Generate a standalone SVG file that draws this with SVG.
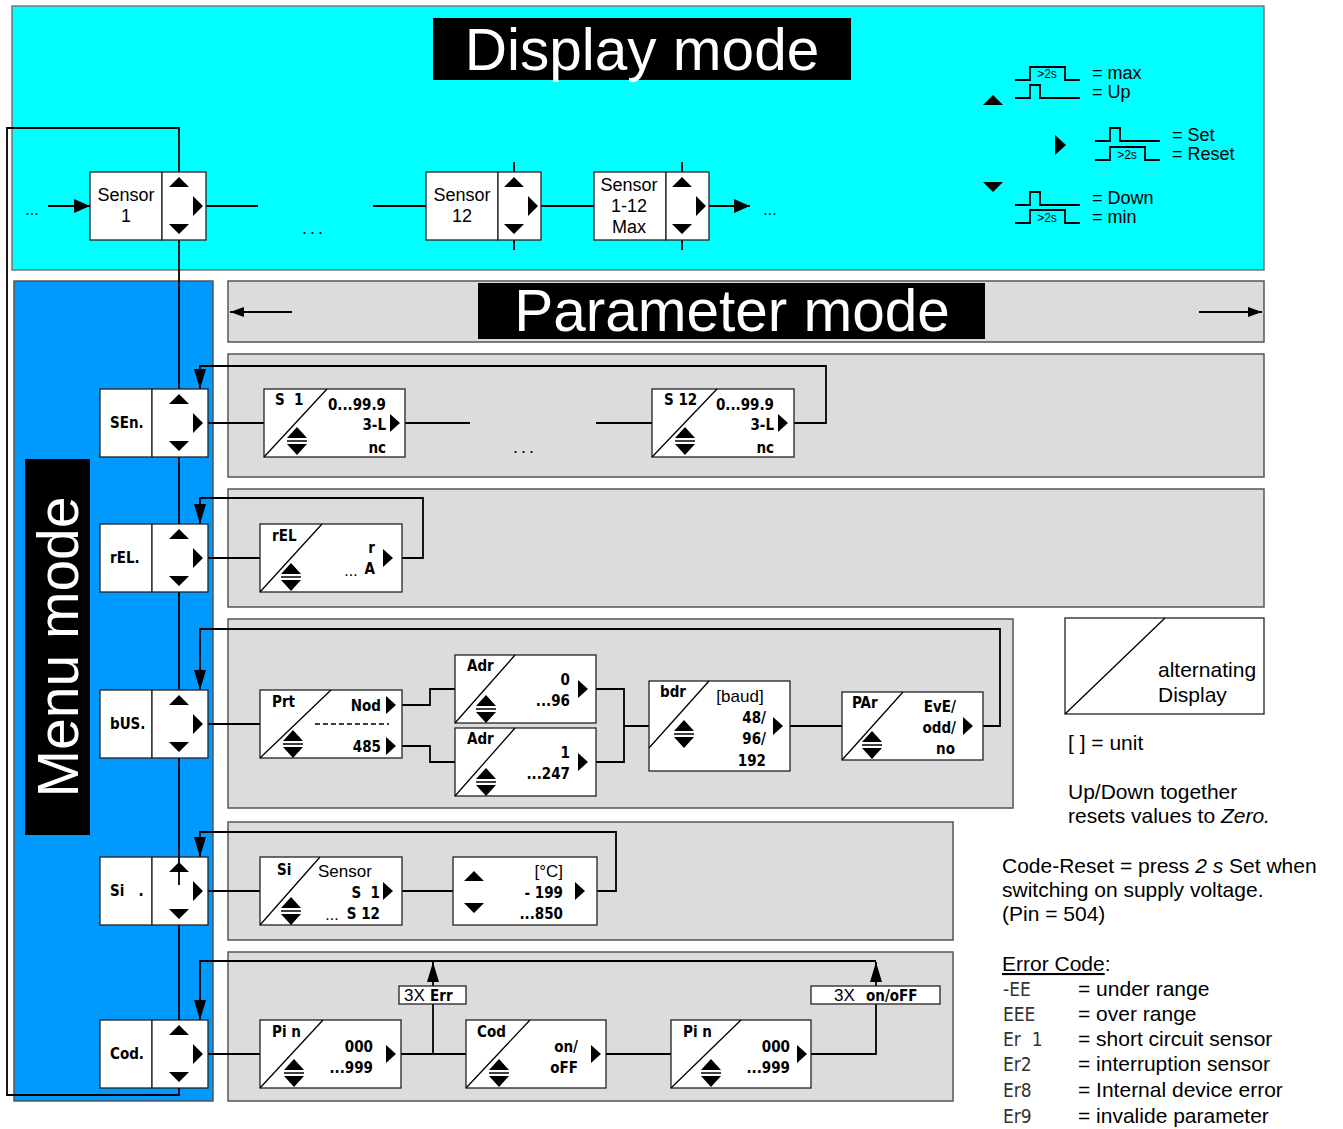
<svg xmlns="http://www.w3.org/2000/svg" width="1343" height="1129" viewBox="0 0 1343 1129">
<style>
.pn{fill:#dcdcdc;stroke:#555;stroke-width:1.5}
.bx{fill:#fff;stroke:#222;stroke-width:1.3}
.ln{fill:none;stroke:#000;stroke-width:1.8}
.dg{stroke:#000;stroke-width:1.3}
.t{font-family:"Liberation Sans",Arial,sans-serif;fill:#000}
.s{font-family:"DejaVu Sans Condensed","DejaVu Sans",sans-serif;font-stretch:condensed;font-weight:bold;fill:#000;font-size:15px}
.e{font-family:"DejaVu Sans Condensed","DejaVu Sans",sans-serif;font-stretch:condensed;font-weight:normal;fill:#333;font-size:19px}
.ti{font-family:"Liberation Sans",Arial,sans-serif;fill:#fff}
.tr{fill:#000}
</style>
<defs>
<marker id="ah" viewBox="0 0 20 12" refX="20" refY="6" markerWidth="20" markerHeight="12" markerUnits="userSpaceOnUse" orient="auto"><path d="M0,0L20,6L0,12z" fill="#000"/></marker>
<marker id="ah2" viewBox="0 0 16 14" refX="16" refY="7" markerWidth="16" markerHeight="14" markerUnits="userSpaceOnUse" orient="auto"><path d="M0,0L16,7L0,14z" fill="#000"/></marker>
<marker id="ah3" viewBox="0 0 14 10" refX="14" refY="5" markerWidth="14" markerHeight="10" markerUnits="userSpaceOnUse" orient="auto"><path d="M0,0L14,5L0,10z" fill="#000"/></marker>
<g id="ctl"><path class="tr" d="M-10,15H10L0,5z M-10,52H10L0,62z M14,24V44L24,34z"/></g>
<g id="ud"><path class="tr" d="M-10,-3H10L0,-14z M-10,3H10L0,14z"/><path d="M-10,0H10" stroke="#000" stroke-width="1.5"/></g>
<path id="rt" class="tr" d="M0,-9V9L10,0z"/>
</defs>

<!-- Panels -->
<g id="display-panel">
<rect x="12" y="6" width="1252" height="264" fill="#00ffff" stroke="#777" stroke-width="1.5"/>
<rect x="433" y="18" width="418" height="62" fill="#000"/>
<text class="ti" x="642" y="70" font-size="58.5" text-anchor="middle">Display mode</text>
</g>
<g id="menu-panel">
<rect x="14" y="281" width="199" height="820" fill="#0099ff" stroke="#555" stroke-width="1.5"/>
<rect x="25" y="459" width="65" height="376" fill="#000"/>
<text class="ti" x="57" y="668" font-size="57" text-anchor="middle" transform="rotate(-90 57 647)">Menu mode</text>
</g>
<g id="param-panel">
<rect class="pn" x="228" y="281" width="1036" height="61"/>
<rect x="478" y="283" width="507" height="56" fill="#000"/>
<text class="ti" x="732" y="331" font-size="58.5" text-anchor="middle">Parameter mode</text>
</g>
<rect class="pn" x="228" y="354" width="1036" height="123"/>
<rect class="pn" x="228" y="489" width="1036" height="118"/>
<rect class="pn" x="228" y="619" width="785" height="189"/>
<rect class="pn" x="228" y="822" width="725" height="118"/>
<rect class="pn" x="228" y="952" width="725" height="149"/>

<!-- Connectors -->
<g id="connectors" class="ln">
<path d="M292,312H230" marker-end="url(#ah3)"/>
<path d="M1199,312H1262" marker-end="url(#ah3)"/>
<path d="M48,206H90" marker-end="url(#ah2)"/>
<path d="M206,206H258M373,206H426M541,206H594"/>
<path d="M709,206H750" marker-end="url(#ah2)"/>
<path d="M514,162V172M514,240V250M682,162V172M682,240V250"/>
<path d="M179,172V128H7V1095H179V1088"/>
<path d="M179,240V389M179,457V524M179,592V690M179,758V885M179,925V1020"/>
<path d="M208,423H264M405,423H470M596,423H652"/>
<path d="M794,423H826V366H200V389" marker-end="url(#ah)"/>
<path d="M208,558H260"/>
<path d="M402,558H423V498H200V524" marker-end="url(#ah)"/>
<path d="M208,724H260M402,705H430V689H455M402,746H430V762H455M596,689H624V762H596M624,726H649M790,726H842"/>
<path d="M983,726H1000V629H200V690" marker-end="url(#ah)"/>
<path d="M208,891H260M402,891H453"/>
<path d="M597,891H616V832H200V857" marker-end="url(#ah)"/>
<path d="M208,1054H260M401,1054H466M606,1054H671"/>
<path d="M433,1054V962" marker-end="url(#ah)"/>
<path d="M811,1054H876V962" marker-end="url(#ah)"/>
<path d="M876,961H200V1020" marker-end="url(#ah)"/>
</g>

<!-- Display mode nodes -->
<text class="t" x="32" y="215" font-size="16" text-anchor="middle">...</text>
<g id="sensor1">
<rect class="bx" x="90" y="172" width="72" height="68"/><rect class="bx" x="162" y="172" width="44" height="68"/>
<text class="t" x="126" y="201" font-size="18" text-anchor="middle">Sensor</text>
<text class="t" x="126" y="222" font-size="18" text-anchor="middle">1</text>
<use href="#ctl" x="179" y="172"/>
</g>
<text class="t" x="314" y="234" font-size="18" text-anchor="middle" letter-spacing="3">...</text>
<g id="sensor12">
<rect class="bx" x="426" y="172" width="72" height="68"/><rect class="bx" x="498" y="172" width="43" height="68"/>
<text class="t" x="462" y="201" font-size="18" text-anchor="middle">Sensor</text>
<text class="t" x="462" y="222" font-size="18" text-anchor="middle">12</text>
<use href="#ctl" x="514" y="172"/>
</g>
<g id="sensormax">
<rect class="bx" x="594" y="172" width="72" height="68"/><rect class="bx" x="666" y="172" width="43" height="68"/>
<text class="t" x="629" y="191" font-size="18" text-anchor="middle">Sensor</text>
<text class="t" x="629" y="212" font-size="18" text-anchor="middle">1-12</text>
<text class="t" x="629" y="233" font-size="18" text-anchor="middle">Max</text>
<use href="#ctl" x="682" y="172"/>
</g>
<text class="t" x="770" y="215" font-size="16" text-anchor="middle">...</text>

<!-- Legend top right -->
<g id="legend-keys">
<path class="tr" d="M983,105H1003L993,95z"/>
<path class="tr" d="M1055,135V155L1066,145z"/>
<path class="tr" d="M983,182H1003L993,192z"/>
<g class="ln" stroke-width="1.5">
<path d="M1015,80H1030V67H1065V80H1080"/>
<path d="M1015,98H1030V85H1040V98H1080"/>
<path d="M1095,141H1110V128H1120V141H1160"/>
<path d="M1095,160H1110V147H1145V160H1160"/>
<path d="M1015,205H1030V192H1040V205H1080"/>
<path d="M1015,223H1030V210H1065V223H1080"/>
</g>
<text class="t" x="1047" y="78" font-size="12" text-anchor="middle">&gt;2s</text>
<text class="t" x="1127" y="159" font-size="12" text-anchor="middle">&gt;2s</text>
<text class="t" x="1047" y="222" font-size="12" text-anchor="middle">&gt;2s</text>
<text class="t" x="1092" y="79" font-size="18">= max</text>
<text class="t" x="1092" y="98" font-size="18">= Up</text>
<text class="t" x="1172" y="141" font-size="18">= Set</text>
<text class="t" x="1172" y="160" font-size="18">= Reset</text>
<text class="t" x="1092" y="204" font-size="18">= Down</text>
<text class="t" x="1092" y="223" font-size="18">= min</text>
</g>

<!-- Menu nodes -->
<g id="m-sen"><rect class="bx" x="100" y="389" width="52" height="68"/><rect class="bx" x="152" y="389" width="56" height="68"/><text class="s" x="110" y="428">SEn.</text><use href="#ctl" x="179" y="389"/></g>
<g id="m-rel"><rect class="bx" x="100" y="524" width="52" height="68"/><rect class="bx" x="152" y="524" width="56" height="68"/><text class="s" x="110" y="563">rEL.</text><use href="#ctl" x="179" y="524"/></g>
<g id="m-bus"><rect class="bx" x="100" y="690" width="52" height="68"/><rect class="bx" x="152" y="690" width="56" height="68"/><text class="s" x="110" y="729">bUS.</text><use href="#ctl" x="179" y="690"/></g>
<g id="m-si"><rect class="bx" x="100" y="857" width="52" height="68"/><rect class="bx" x="152" y="857" width="56" height="68"/><text class="s" x="110" y="896" style="white-space:pre">Si   .</text><use href="#ctl" x="179" y="857"/><path d="M179,857V885" stroke="#000" stroke-width="1.8"/></g>
<g id="m-cod"><rect class="bx" x="100" y="1020" width="52" height="68"/><rect class="bx" x="152" y="1020" width="56" height="68"/><text class="s" x="110" y="1059">Cod.</text><use href="#ctl" x="179" y="1020"/></g>

<!-- SEn row -->
<g id="p-s1"><rect class="bx" x="264" y="389" width="141" height="68"/><path class="dg" d="M264,457L327,389"/>
<text class="s" x="275" y="405" style="white-space:pre">S  1</text>
<text class="s" x="386" y="410" text-anchor="end">0...99.9</text>
<text class="s" x="386" y="430" text-anchor="end">3-L</text>
<text class="s" x="386" y="453" text-anchor="end">nc</text>
<use href="#ud" x="297" y="441"/><use href="#rt" x="390" y="423"/></g>
<text class="t" x="525" y="453" font-size="18" text-anchor="middle" letter-spacing="3">...</text>
<g id="p-s12"><rect class="bx" x="652" y="389" width="142" height="68"/><path class="dg" d="M652,457L717,389"/>
<text class="s" x="664" y="405">S 12</text>
<text class="s" x="774" y="410" text-anchor="end">0...99.9</text>
<text class="s" x="774" y="430" text-anchor="end">3-L</text>
<text class="s" x="774" y="453" text-anchor="end">nc</text>
<use href="#ud" x="685" y="441"/><use href="#rt" x="778" y="423"/></g>

<!-- rEL row -->
<g id="p-rel"><rect class="bx" x="260" y="524" width="142" height="68"/><path class="dg" d="M260,592L322,524"/>
<text class="s" x="272" y="541">rEL</text>
<text class="s" x="375" y="553" text-anchor="end" font-size="12">r</text>
<text class="s" x="375" y="574" text-anchor="end">A</text>
<text class="t" x="351" y="576" font-size="16" text-anchor="middle">...</text>
<use href="#ud" x="291" y="577"/><use href="#rt" x="383" y="558"/></g>

<!-- bUS row -->
<g id="p-prt"><rect class="bx" x="260" y="690" width="142" height="68"/><path class="dg" d="M260,758L331,690"/>
<text class="s" x="272" y="707">Prt</text>
<text class="s" x="381" y="711" text-anchor="end">Nod</text>
<path d="M315,724H389" stroke="#000" stroke-width="1.5" stroke-dasharray="5,3"/>
<text class="s" x="381" y="752" text-anchor="end">485</text>
<use href="#ud" x="293" y="744"/><use href="#rt" x="386" y="705"/><use href="#rt" x="386" y="746"/></g>
<g id="p-adr1"><rect class="bx" x="455" y="655" width="141" height="68"/><path class="dg" d="M455,723L515,655"/>
<text class="s" x="467" y="671">Adr</text>
<text class="s" x="570" y="685" text-anchor="end">0</text>
<text class="s" x="570" y="706" text-anchor="end">...96</text>
<use href="#ud" x="486" y="709"/><use href="#rt" x="578" y="689"/></g>
<g id="p-adr2"><rect class="bx" x="455" y="728" width="141" height="68"/><path class="dg" d="M455,796L515,728"/>
<text class="s" x="467" y="744">Adr</text>
<text class="s" x="570" y="758" text-anchor="end">1</text>
<text class="s" x="570" y="779" text-anchor="end">...247</text>
<use href="#ud" x="486" y="782"/><use href="#rt" x="578" y="762"/></g>
<g id="p-bdr"><rect class="bx" x="649" y="681" width="141" height="90"/><path class="dg" d="M649,748L709,681"/>
<text class="s" x="660" y="697">bdr</text>
<text class="t" x="740" y="702" font-size="17" text-anchor="middle">[baud]</text>
<text class="s" x="766" y="723" text-anchor="end">48/</text>
<text class="s" x="766" y="744" text-anchor="end">96/</text>
<text class="s" x="766" y="766" text-anchor="end">192</text>
<use href="#ud" x="684" y="734"/><use href="#rt" x="773" y="726"/></g>
<g id="p-par"><rect class="bx" x="842" y="692" width="141" height="68"/><path class="dg" d="M842,760L903,692"/>
<text class="s" x="852" y="708">PAr</text>
<text class="s" x="956" y="712" text-anchor="end">EvE/</text>
<text class="s" x="956" y="733" text-anchor="end">odd/</text>
<text class="s" x="955" y="754" text-anchor="end">no</text>
<use href="#ud" x="872" y="745"/><use href="#rt" x="963" y="726"/></g>

<!-- Si row -->
<g id="p-si"><rect class="bx" x="260" y="857" width="142" height="68"/><path class="dg" d="M260,925L320,857"/>
<text class="s" x="277" y="875">Si</text>
<text class="t" x="318" y="877" font-size="17">Sensor</text>
<text class="s" x="380" y="898" text-anchor="end" style="white-space:pre">S  1</text>
<text class="s" x="380" y="919" text-anchor="end">S 12</text>
<text class="t" x="332" y="920" font-size="16" text-anchor="middle">...</text>
<use href="#ud" x="291" y="911"/><use href="#rt" x="383" y="891"/></g>
<g id="p-temp"><rect class="bx" x="453" y="857" width="144" height="68"/>
<path class="tr" d="M464,881H484L474,871z M464,903H484L474,913z"/>
<text class="t" x="563" y="877" font-size="17" text-anchor="end">[°C]</text>
<text class="s" x="563" y="898" text-anchor="end">- 199</text>
<text class="s" x="563" y="919" text-anchor="end">...850</text>
<use href="#rt" x="575" y="891"/></g>

<!-- Cod row -->
<g id="p-pin1"><rect class="bx" x="260" y="1020" width="141" height="68"/><path class="dg" d="M260,1088L323,1020"/>
<text class="s" x="272" y="1037">Pi n</text>
<text class="s" x="373" y="1052" text-anchor="end">000</text>
<text class="s" x="373" y="1073" text-anchor="end">...999</text>
<use href="#ud" x="294" y="1073"/><use href="#rt" x="386" y="1054"/></g>
<g id="lbl-err"><rect class="bx" x="399" y="986" width="67" height="18"/>
<text class="t" x="404" y="1001" font-size="17">3X</text><text class="s" x="430" y="1001">Err</text></g>
<g id="p-cod"><rect class="bx" x="466" y="1020" width="140" height="68"/><path class="dg" d="M466,1088L530,1020"/>
<text class="s" x="477" y="1037">Cod</text>
<text class="s" x="578" y="1052" text-anchor="end">on/</text>
<text class="s" x="578" y="1073" text-anchor="end">oFF</text>
<use href="#ud" x="499" y="1073"/><use href="#rt" x="591" y="1054"/></g>
<g id="p-pin2"><rect class="bx" x="671" y="1020" width="140" height="68"/><path class="dg" d="M671,1088L741,1020"/>
<text class="s" x="683" y="1037">Pi n</text>
<text class="s" x="790" y="1052" text-anchor="end">000</text>
<text class="s" x="790" y="1073" text-anchor="end">...999</text>
<use href="#ud" x="711" y="1073"/><use href="#rt" x="797" y="1054"/></g>
<g id="lbl-onoff"><rect class="bx" x="811" y="986" width="129" height="18"/>
<text class="t" x="834" y="1001" font-size="17">3X</text><text class="s" x="866" y="1001">on/oFF</text></g>

<!-- Right legend -->
<g id="legend-alt"><rect class="bx" x="1065" y="618" width="199" height="96"/><path class="dg" d="M1065,714L1165,618"/>
<text class="t" x="1158" y="677" font-size="21">alternating</text>
<text class="t" x="1158" y="702" font-size="21">Display</text></g>
<g id="notes">
<text class="t" x="1068" y="750" font-size="21">[ ] = unit</text>
<text class="t" x="1068" y="799" font-size="21">Up/Down together</text>
<text class="t" x="1068" y="823" font-size="21">resets values to <tspan font-style="italic">Zero.</tspan></text>
<text class="t" x="1002" y="873" font-size="21">Code-Reset = press <tspan font-style="italic">2 s</tspan> Set when</text>
<text class="t" x="1002" y="897" font-size="21">switching on supply voltage.</text>
<text class="t" x="1002" y="921" font-size="21">(Pin = 504)</text>
<text class="t" x="1002" y="971" font-size="21"><tspan text-decoration="underline">Error Code</tspan>:</text>
<text class="e" x="1003" y="996">-EE</text><text class="t" x="1078" y="996" font-size="21">= under range</text>
<text class="e" x="1003" y="1021">EEE</text><text class="t" x="1078" y="1021" font-size="21">= over range</text>
<text class="e" x="1003" y="1046" style="white-space:pre">Er  1</text><text class="t" x="1078" y="1046" font-size="21">= short circuit sensor</text>
<text class="e" x="1003" y="1071">Er2</text><text class="t" x="1078" y="1071" font-size="21">= interruption sensor</text>
<text class="e" x="1003" y="1097">Er8</text><text class="t" x="1078" y="1097" font-size="21">= Internal device error</text>
<text class="e" x="1003" y="1123">Er9</text><text class="t" x="1078" y="1123" font-size="21">= invalide parameter</text>
</g>
</svg>
